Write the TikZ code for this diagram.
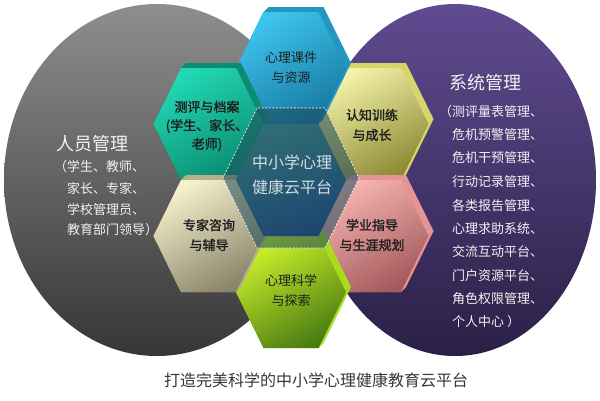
\documentclass[tikz,border=0pt]{standalone}
\usepackage{fontspec}
\setmainfont{Noto Sans CJK SC}
\newfontfamily\cjkbold[FakeBold=1.6]{Noto Sans CJK SC}

% circle colours
\definecolor{grayTop}{HTML}{8E8E8E}
\definecolor{grayMid}{HTML}{5E5E5E}
\definecolor{grayBot}{HTML}{363636}
\definecolor{purTop}{HTML}{5F4B90}
\definecolor{purMid}{HTML}{4A3A7A}
\definecolor{purBot}{HTML}{2A2046}
% hexagon colours
\definecolor{blueSide}{HTML}{2596C0}
\definecolor{blueTop}{HTML}{3EC4EE}
\definecolor{blueBot}{HTML}{167AA2}
\definecolor{tealSide}{HTML}{0D8C74}
\definecolor{tealTop}{HTML}{22D8B4}
\definecolor{tealBot}{HTML}{0A8C70}
\definecolor{oliveSide}{HTML}{D6D46A}
\definecolor{oliveTop}{HTML}{F4F2A8}
\definecolor{oliveBot}{HTML}{8C8A34}
\definecolor{beigeSide}{HTML}{B8B08A}
\definecolor{beigeTop}{HTML}{F4F0CC}
\definecolor{beigeBot}{HTML}{8A846A}
\definecolor{pinkSide}{HTML}{E49494}
\definecolor{pinkTop}{HTML}{F6B4B2}
\definecolor{pinkBot}{HTML}{A45A5C}
\definecolor{limeSide}{HTML}{A8DC1C}
\definecolor{limeTop}{HTML}{CCF22A}
\definecolor{limeBot}{HTML}{4A7C12}
\definecolor{hubShade}{HTML}{1E4A5A}
\definecolor{hubLeft}{HTML}{2F6D74}
\definecolor{hubRight}{HTML}{1D4670}
\definecolor{hubText}{HTML}{D4DEDE}
\definecolor{circText}{HTML}{F2F2F2}
\definecolor{capText}{HTML}{383838}

% one honeycomb cell: extruded side towards the upper right, shaded front face
\newcommand\hexprism[4]{%
  \begin{scope}[shift={#1}]
    \fill[#2] (27.5,56) -- (-27.5,56) -- (-55,0) -- (-27.5,-56) -- (-22.5,-61)
      -- (32.5,-61) -- (60,-5) -- (32.5,51) -- cycle;
    \shade[top color=#3, bottom color=#4, shading angle=30]
      (55,0) -- (27.5,56) -- (-27.5,56) -- (-55,0) -- (-27.5,-56) -- (27.5,-56) -- cycle;
  \end{scope}}

\begin{document}
\begin{tikzpicture}[x=1pt,y=-1pt,
  hextext/.style={align=center, inner sep=0pt, text=black!88,
    font=\fontsize{13}{20}\selectfont},
  hexbold/.style={hextext, font=\cjkbold\fontsize{13}{20}\selectfont},
  circtitle/.style={anchor=west, inner sep=0pt, text=circText,
    font=\fontsize{18}{20}\selectfont},
  circitem/.style={anchor=west, inner sep=0pt, text=circText,
    font=\fontsize{13}{15}\selectfont}]
\useasboundingbox (0,0) rectangle (600,400);
\fill[white] (0,0) rectangle (600,400);

% the two large discs
\shade[top color=grayTop, middle color=grayMid, bottom color=grayBot]
  (157,180) ellipse [x radius=153, y radius=176];
\shade[top color=purTop, middle color=purMid, bottom color=purBot]
  (455,180) ellipse [x radius=141, y radius=176];

% honeycomb, drawn from the back (upper right) to the front (lower left)
\hexprism{(373.5,124)}{oliveSide}{oliveTop}{oliveBot}
\hexprism{(291,68)}{blueSide}{blueTop}{blueBot}
\hexprism{(373.5,236)}{pinkSide}{pinkTop}{pinkBot}
\hexprism{(208.5,124)}{tealSide}{tealTop}{tealBot}
\hexprism{(291,292)}{limeSide}{limeTop}{limeBot}
\hexprism{(208.5,236)}{beigeSide}{beigeTop}{beigeBot}

% central hub: darkened rim with dashed outline, then the inner face
\begin{scope}[shift={(291,178)}]
  \fill[hubShade, fill opacity=0.55]
    (68,0) -- (34,70) -- (-34,70) -- (-68,0) -- (-34,-70) -- (34,-70) -- cycle;
  \draw[white, line width=0.6pt, dash pattern=on 2pt off 1.6pt]
    (68,0) -- (34,70) -- (-34,70) -- (-68,0) -- (-34,-70) -- (34,-70) -- cycle;
\end{scope}
\begin{scope}[shift={(291,180)}]
  \shade[left color=hubLeft, right color=hubRight, shading angle=20]
    (55,0) -- (27.5,56) -- (-27.5,56) -- (-55,0) -- (-27.5,-56) -- (27.5,-56) -- cycle;
\end{scope}

% cell labels
\node[hextext] (res)  at (291,68)  {心理课件\\与资源};
\node[hexbold, font=\cjkbold\fontsize{13}{18.5}\selectfont] (eval) at (207,126) {测评与档案\\(学生、家长、\\老师)};
\node[hexbold] (cog)  at (372,125) {认知训练\\与成长};
\node[hexbold] (exp)  at (209,235) {专家咨询\\与辅导};
\node[hexbold] (car)  at (372,235) {学业指导\\与生涯规划};
\node[hextext] (sci)  at (291,290) {心理科学\\与探索};
\node[align=center, inner sep=0pt, text=hubText,
      font=\fontsize{16}{25}\selectfont] (hub) at (292,175) {中小学心理\\健康云平台};

% left disc: people
\node[circtitle] (ppl) at (56,144) {人员管理};
\node[circitem] (ppl1) at (54,167) {（学生、教师、};
\node[circitem] (ppl2) at (67,189) {家长、专家、};
\node[circitem] (ppl3) at (67,210) {学校管理员、};
\node[circitem] (ppl4) at (67,230) {教育部门领导）};

% right disc: system
\node[circtitle] (sys) at (449,83) {系统管理};
\node[circitem] (sys1) at (439,112) {（测评量表管理、};
\foreach \txt/\yy [count=\i from 2] in {危机预警管理、/135, 危机干预管理、/158,
    行动记录管理、/182, 各类报告管理、/206, 心理求助系统、/229,
    交流互动平台、/252, 门户资源平台、/276, 角色权限管理、/299, 个人中心 ）/322}
  \node[circitem] (sys\i) at (452,\yy) {\txt};

% caption
\node[inner sep=0pt, text=capText, font=\fontsize{16}{18}\selectfont] (cap)
  at (316,380) {打造完美科学的中小学心理健康教育云平台};
\end{tikzpicture}
\end{document}
